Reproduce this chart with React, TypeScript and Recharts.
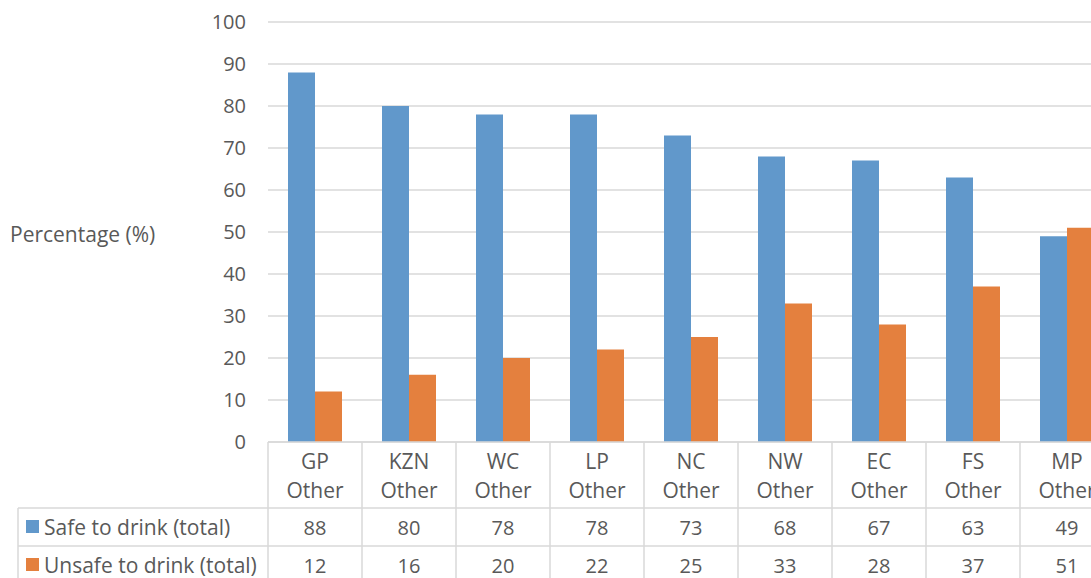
import { Bar, BarChart, CartesianGrid, Customized, XAxis, YAxis } from 'recharts'

const provinces = ['GP', 'KZN', 'WC', 'LP', 'NC', 'NW', 'EC', 'FS', 'MP']
const subLabel = 'Other'
const safeTotals = [88, 80, 78, 78, 73, 68, 67, 63, 49]
const unsafeTotals = [12, 16, 20, 22, 25, 33, 28, 37, 51]
const yTicks = [0, 10, 20, 30, 40, 50, 60, 70, 80, 90, 100]

const SAFE_NAME = 'Safe to drink (total)'
const UNSAFE_NAME = 'Unsafe to drink (total)'
const SAFE_COLOR = '#6198cb'
const UNSAFE_COLOR = '#e4803e'
const GRID = '#d9d9d9'
const TEXT = '#595959'
const FONT = '"Open Sans", sans-serif'
const FS_NUM = 20
const FS_TEXT = 21

const rows = provinces.map((p, i) => ({
  province: p,
  safe: safeTotals[i],
  unsafe: unsafeTotals[i],
}))

// chart geometry
const WIDTH = 1130
const HEIGHT = 600
const PLOT_LEFT = 268
const PLOT_TOP = 22
const PLOT_BOTTOM = 442
const AXIS_HEIGHT = HEIGHT - PLOT_BOTTOM
const ROW1 = 508
const ROW2 = 546
const ROW3 = 584
const TABLE_LEFT = 18

function TableTick(props: any) {
  const { x, y, index } = props
  const band = (WIDTH - 16 - PLOT_LEFT) / provinces.length
  const left = x - band / 2
  const base = {
    fill: TEXT,
    fontFamily: FONT,
    textAnchor: 'middle' as const,
    dominantBaseline: 'central' as const,
  }
  return (
    <g>
      <line x1={left} x2={left} y1={y} y2={ROW3} stroke={GRID} strokeWidth={1.5} />
      <text x={x} y={y + 19} fontSize={FS_TEXT} {...base}>
        {provinces[index]}
      </text>
      <text x={x} y={y + 48} fontSize={FS_TEXT} {...base}>
        {subLabel}
      </text>
      <text x={x} y={(ROW1 + ROW2) / 2} fontSize={FS_NUM} {...base}>
        {safeTotals[index]}
      </text>
      <text x={x} y={(ROW2 + ROW3) / 2} fontSize={FS_NUM} {...base}>
        {unsafeTotals[index]}
      </text>
    </g>
  )
}

function TableFrame() {
  const legendRows = [
    { name: SAFE_NAME, color: SAFE_COLOR, top: ROW1, bottom: ROW2 },
    { name: UNSAFE_NAME, color: UNSAFE_COLOR, top: ROW2, bottom: ROW3 },
  ]
  return (
    <g>
      <text
        x={10}
        y={(PLOT_TOP + PLOT_BOTTOM) / 2 + 2}
        fill={TEXT}
        fontSize={FS_TEXT}
        fontFamily={FONT}
        dominantBaseline="central"
      >
        Percentage (%)
      </text>
      {[ROW1, ROW2, ROW3].map((yy) => (
        <line key={yy} x1={TABLE_LEFT} x2={WIDTH} y1={yy} y2={yy} stroke={GRID} strokeWidth={1.5} />
      ))}
      <line x1={TABLE_LEFT} x2={TABLE_LEFT} y1={ROW1} y2={ROW3} stroke={GRID} strokeWidth={1.5} />
      {legendRows.map((r) => {
        const mid = (r.top + r.bottom) / 2
        return (
          <g key={r.name}>
            <rect x={26} y={mid - 7} width={13} height={13} fill={r.color} />
            <text
              x={44}
              y={mid}
              fill={TEXT}
              fontSize={FS_TEXT}
              fontFamily={FONT}
              dominantBaseline="central"
            >
              {r.name}
            </text>
          </g>
        )
      })}
    </g>
  )
}

export default function App() {
  return (
    <div style={{ position: 'absolute', left: 0, top: 0, width: 1091, height: 578, overflow: 'hidden', background: '#fff' }}>
      <BarChart
        width={WIDTH}
        height={HEIGHT}
        data={rows}
        margin={{ top: PLOT_TOP, right: 16, left: 0, bottom: 0 }}
        barCategoryGap={20}
        barGap={0}
      >
        <CartesianGrid vertical={false} stroke={GRID} strokeWidth={1.5} />
        <YAxis
          width={PLOT_LEFT}
          domain={[0, 100]}
          ticks={yTicks}
          axisLine={false}
          tickLine={false}
          tickSize={0}
          tickMargin={22}
          tick={{ fill: TEXT, fontSize: FS_NUM, fontFamily: FONT }}
        />
        <XAxis
          dataKey="province"
          height={AXIS_HEIGHT}
          axisLine={{ stroke: GRID, strokeWidth: 1.5 }}
          tickLine={false}
          tickSize={0}
          tickMargin={0}
          interval={0}
          tick={<TableTick />}
        />
        <Bar dataKey="safe" name={SAFE_NAME} fill={SAFE_COLOR} isAnimationActive={false} />
        <Bar dataKey="unsafe" name={UNSAFE_NAME} fill={UNSAFE_COLOR} isAnimationActive={false} />
        <Customized component={TableFrame} />
      </BarChart>
    </div>
  )
}
